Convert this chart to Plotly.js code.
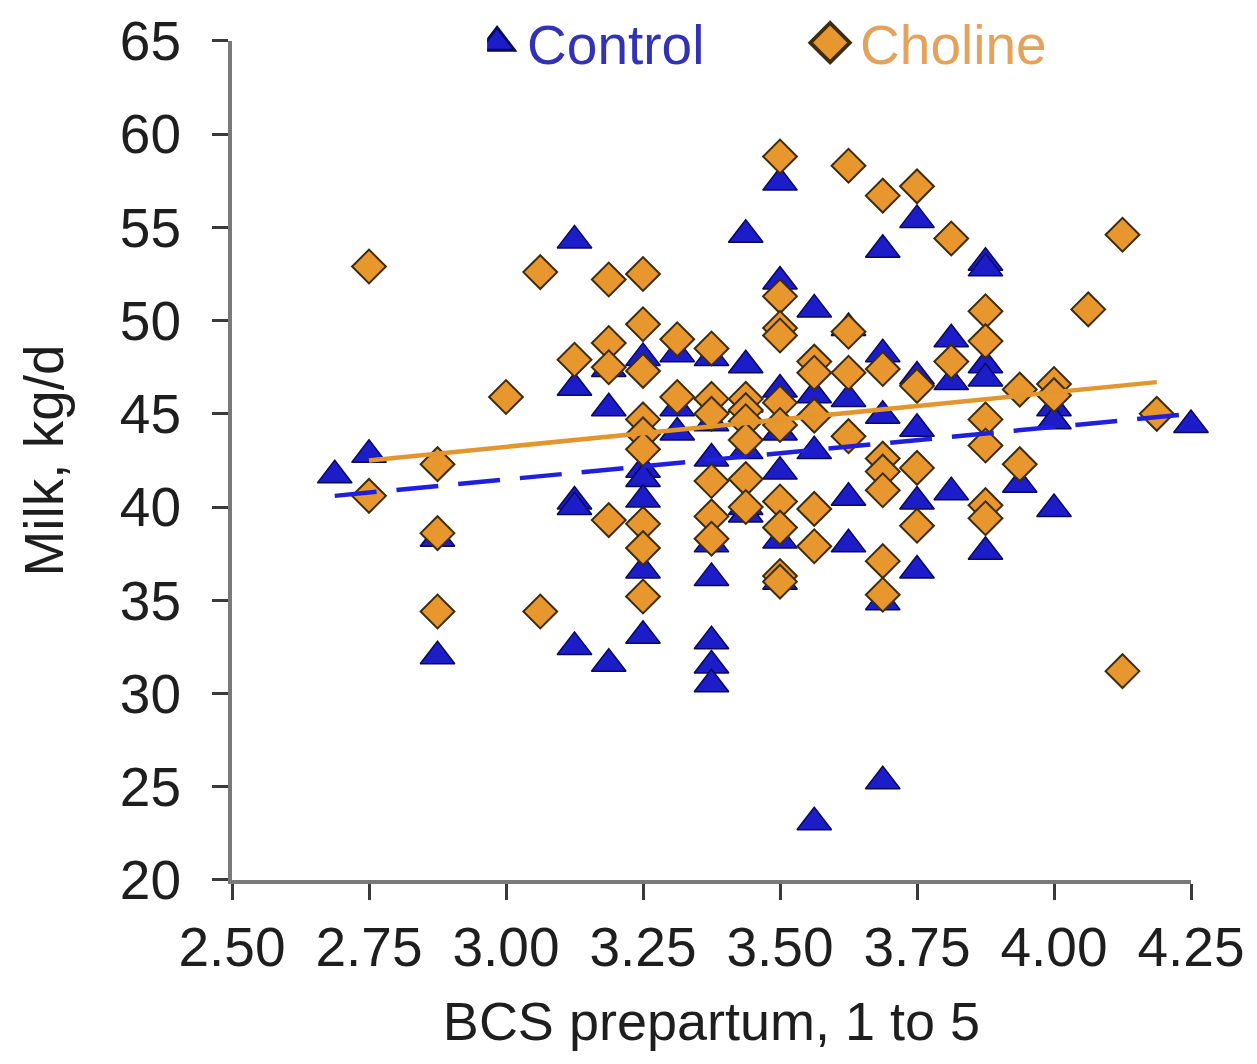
<!DOCTYPE html>
<html>
<head>
<meta charset="utf-8">
<script src="https://cdn.plot.ly/plotly-3.0.1.min.js"></script>
<style>
  html, body { margin: 0; padding: 0; background: #ffffff; }
  #chart { width: 1257px; height: 1064px; }
</style>
</head>
<body>
<div id="chart"></div>
<script>
// ---- Data ----
const controlX = [2.6875, 2.75, 2.875, 2.875, 3.125, 3.125, 3.125, 3.125, 3.125,
  3.1875, 3.1875, 3.1875, 3.25, 3.25, 3.25, 3.25, 3.25, 3.25,
  3.3125, 3.3125, 3.3125, 3.375, 3.375, 3.375, 3.375, 3.375, 3.375, 3.375, 3.375,
  3.4375, 3.4375, 3.4375, 3.4375, 3.4375, 3.4375,
  3.5, 3.5, 3.5, 3.5, 3.5, 3.5, 3.5,
  3.5625, 3.5625, 3.5625, 3.5625, 3.625, 3.625, 3.625, 3.625,
  3.6875, 3.6875, 3.6875, 3.6875, 3.6875,
  3.75, 3.75, 3.75, 3.75, 3.75, 3.8125, 3.8125, 3.8125,
  3.875, 3.875, 3.875, 3.875, 3.875, 3.9375, 4.0, 4.0, 4.0, 4.25];
const controlY = [41.7, 42.8, 38.3, 32.0, 54.3, 46.4, 40.3, 40.0, 32.5,
  47.4, 45.3, 31.6, 48.0, 42.0, 41.5, 40.4, 36.6, 33.1,
  48.2, 45.3, 44.0, 48.0, 44.5, 42.6, 38.0, 36.2, 32.8, 31.5, 30.5,
  54.6, 47.6, 45.5, 43.0, 40.0, 39.6,
  57.4, 52.1, 46.3, 44.0, 41.9, 38.2, 36.0,
  50.6, 46.0, 43.0, 23.1, 49.6, 45.8, 40.5, 38.0,
  53.8, 48.2, 44.9, 34.9, 25.3,
  55.4, 47.0, 44.2, 40.3, 36.6, 49.0, 46.7, 40.8,
  53.1, 52.8, 47.6, 46.9, 37.6, 41.2, 45.3, 44.6, 39.9, 44.4];

const cholineX = [2.75, 2.75, 2.875, 2.875, 2.875, 3.0, 3.0625, 3.0625, 3.125,
  3.1875, 3.1875, 3.1875, 3.1875,
  3.25, 3.25, 3.25, 3.25, 3.25, 3.25, 3.25, 3.25, 3.25,
  3.3125, 3.3125, 3.375, 3.375, 3.375, 3.375, 3.375, 3.375,
  3.4375, 3.4375, 3.4375, 3.4375, 3.4375, 3.4375,
  3.5, 3.5, 3.5, 3.5, 3.5, 3.5, 3.5, 3.5, 3.5, 3.5,
  3.5625, 3.5625, 3.5625, 3.5625, 3.5625,
  3.625, 3.625, 3.625, 3.625,
  3.6875, 3.6875, 3.6875, 3.6875, 3.6875, 3.6875, 3.6875,
  3.75, 3.75, 3.75, 3.75, 3.8125, 3.8125,
  3.875, 3.875, 3.875, 3.875, 3.875, 3.875,
  3.9375, 3.9375, 4.0, 4.0, 4.0625, 4.125, 4.125, 4.1875];
const cholineY = [52.9, 40.6, 42.3, 38.6, 34.4, 45.9, 52.6, 34.4, 47.9,
  52.2, 48.8, 47.5, 39.3,
  52.5, 49.8, 47.3, 44.7, 43.9, 43.1, 39.1, 37.8, 35.2,
  49.0, 45.9, 48.5, 45.8, 45.0, 41.4, 39.5, 38.3,
  45.8, 45.2, 44.6, 43.6, 41.5, 40.0,
  58.8, 51.3, 49.6, 49.2, 45.6, 44.4, 40.3, 38.9, 36.3, 36.0,
  47.8, 47.2, 44.9, 39.9, 37.9,
  58.3, 49.4, 47.2, 43.8,
  56.7, 47.4, 42.6, 41.9, 40.9, 37.1, 35.3,
  57.2, 46.5, 42.1, 39.0, 54.4, 47.8,
  50.5, 48.9, 44.7, 43.3, 40.1, 39.4,
  46.3, 42.3, 46.6, 46.0, 50.6, 54.6, 31.2, 45.0];

// Trend line end points
const controlLineX = [2.6875, 4.25];
const controlLineY = [40.6, 45.0];
const cholineLineX = [2.75, 4.1875];
const cholineLineY = [42.5, 46.7];

const xTicks = [2.50, 2.75, 3.00, 3.25, 3.50, 3.75, 4.00, 4.25];
const yTicks = [20, 25, 30, 35, 40, 45, 50, 55, 60, 65];

const FONT = '"Liberation Sans", Arial, sans-serif';
const TXT = '#1e1e1e';

const traces = [
  {
    type: 'scatter', mode: 'markers', x: controlX, y: controlY,
    name: '<span style="color:#3232b4">Control</span>',
    marker: { symbol: 'triangle-up', size: 30, color: '#1c1cc8',
              line: { color: '#0a0a5a', width: 1.5 } },
    cliponaxis: false, hoverinfo: 'x+y'
  },
  {
    type: 'scatter', mode: 'markers', x: cholineX, y: cholineY,
    name: '<span style="color:#e3a35c">Choline</span>',
    marker: { symbol: 'diamond', size: 26, color: '#e8962e',
              line: { color: '#3d2d0c', width: 2 } },
    cliponaxis: false, hoverinfo: 'x+y'
  },
  {
    type: 'scatter', mode: 'lines', x: cholineLineX, y: cholineLineY,
    line: { color: '#e4962e', width: 4.5 }, showlegend: false, hoverinfo: 'skip'
  },
  {
    type: 'scatter', mode: 'lines', x: controlLineX, y: controlLineY,
    line: { color: '#2020dc', width: 4.5, dash: '42px,20px' }, showlegend: false, hoverinfo: 'skip'
  }
];

// paper area runs from y=0 to y=880 px; the plot itself starts 38 px below the top
const layout = {
  width: 1257, height: 1064,
  paper_bgcolor: '#ffffff', plot_bgcolor: '#ffffff',
  margin: { l: 232, r: 66, t: 0, b: 184 },
  font: { family: FONT, size: 55, color: TXT },
  showlegend: true,
  legend: {
    orientation: 'h', x: 0.266, xanchor: 'left', y: 0.9545, yanchor: 'middle',
    bgcolor: 'rgba(0,0,0,0)', font: { family: FONT, size: 55 },
    entrywidth: 288, entrywidthmode: 'pixels', itemwidth: 30
  },
  xaxis: {
    range: [2.5, 4.25], tickvals: xTicks, tickformat: '.2f',
    showgrid: false, zeroline: false, showline: true,
    linecolor: '#7a7a7a', linewidth: 4, ticks: 'outside', ticklen: 16,
    tickwidth: 3, tickcolor: '#3a3a3a', ticklabelstandoff: 0,
    tickfont: { family: FONT, size: 55, color: TXT },
    title: { text: 'BCS prepartum, 1 to 5', font: { family: FONT, size: 54, color: TXT }, standoff: 26 }
  },
  yaxis: {
    range: [20, 65], tickvals: yTicks, domain: [0, 0.95682],
    showgrid: false, zeroline: false, showline: true,
    linecolor: '#7a7a7a', linewidth: 4, ticks: 'outside', ticklen: 16,
    tickwidth: 3, tickcolor: '#3a3a3a', ticklabelstandoff: 20,
    tickfont: { family: FONT, size: 55, color: TXT },
    title: { text: 'Milk, kg/d', font: { family: FONT, size: 55, color: TXT }, standoff: 40 }
  }
};

Plotly.newPlot('chart', traces, layout, { displayModeBar: false, staticPlot: true }).then(function (gd) {
  // Plotly caps legend symbols at 16 px; enlarge them to match the plotted markers
  gd.querySelectorAll('.legend .legendpoints path.scatterpts').forEach(function (p) {
    p.setAttribute('transform', 'translate(10,0) scale(1.9)');
  });
});
</script>
</body>
</html>
